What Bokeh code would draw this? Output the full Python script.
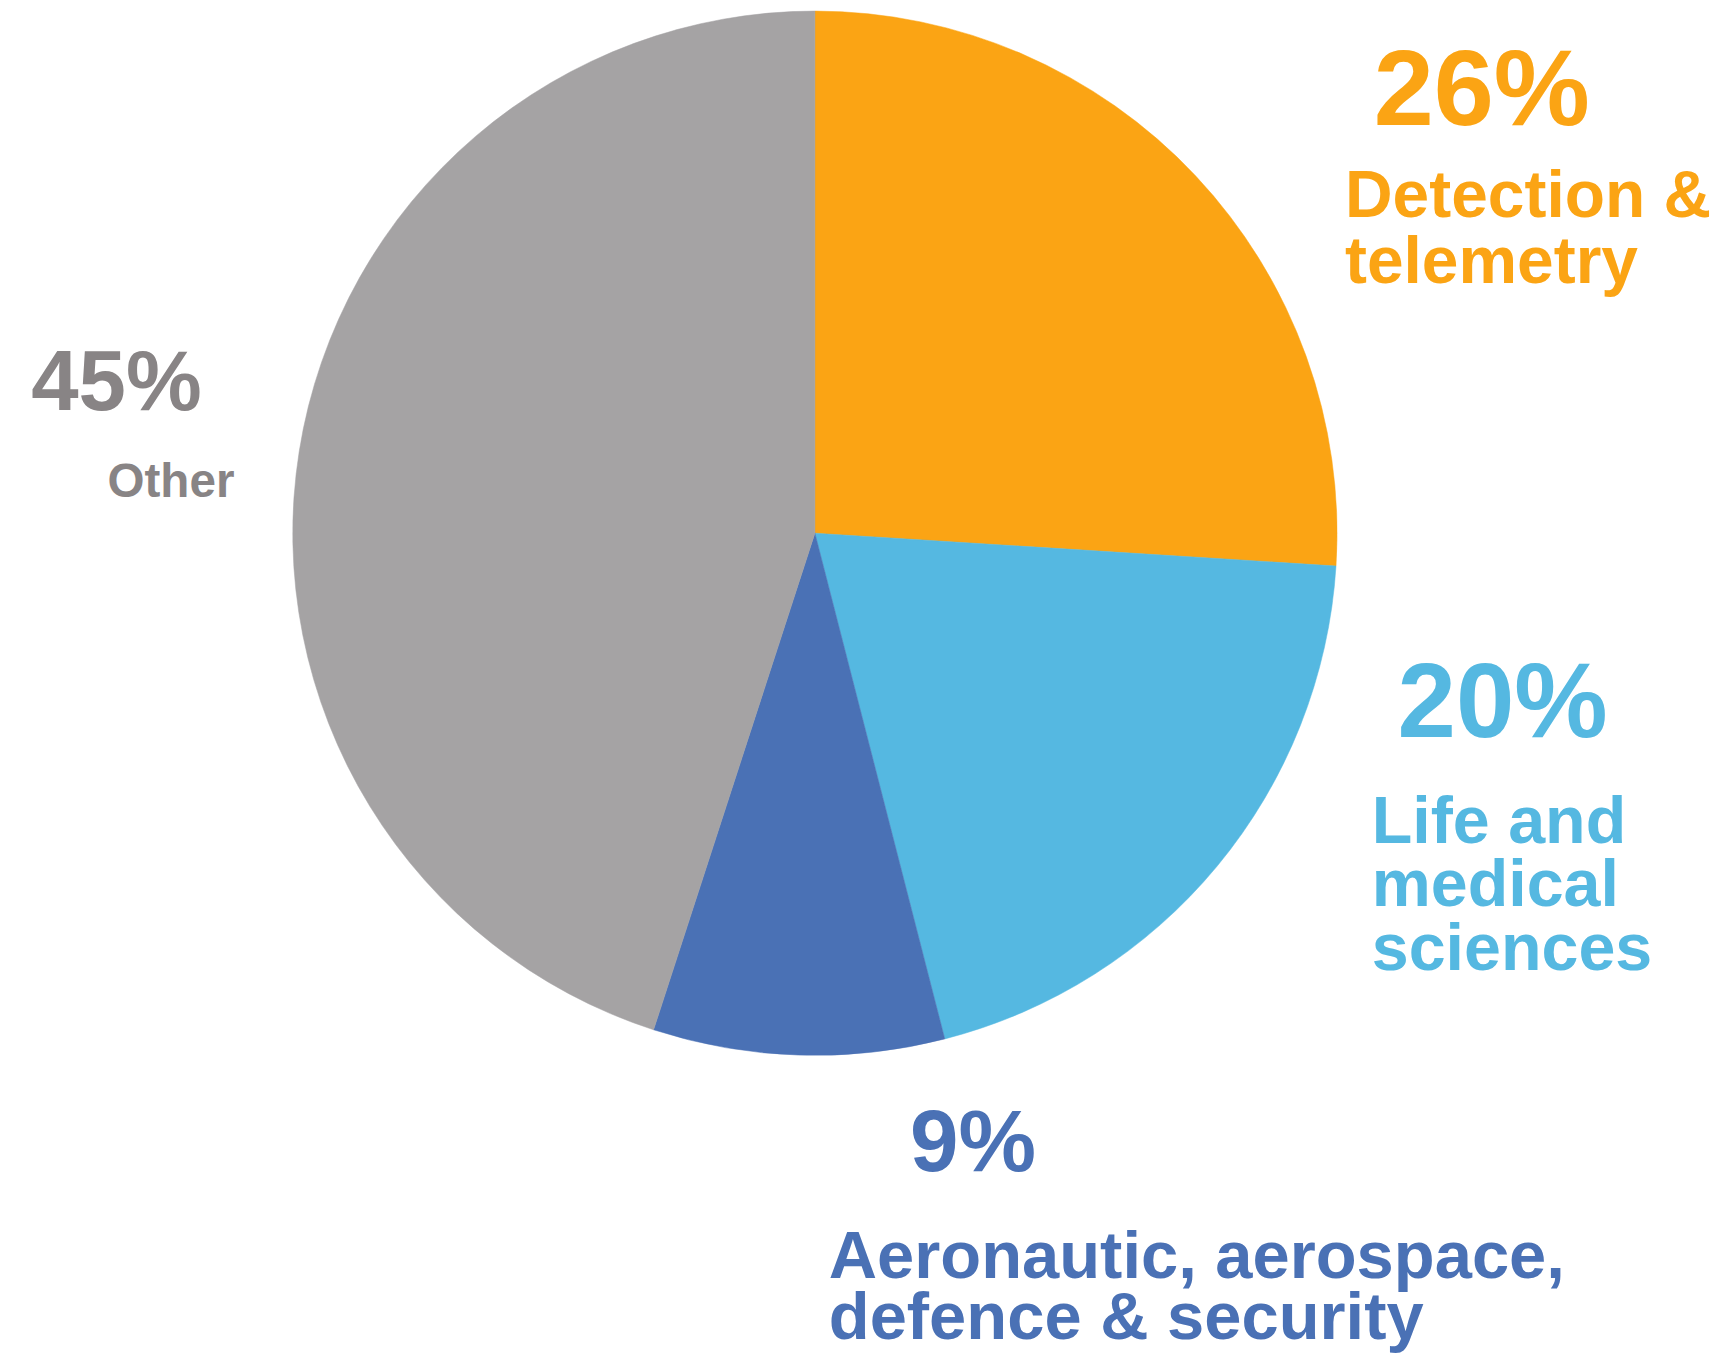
from bokeh.plotting import figure
from bokeh.models import Range1d, ColumnDataSource
from bokeh.core.properties import value
from bokeh.embed import file_html
from bokeh.resources import INLINE
import math

# ---------------- data ----------------
categories = ["Detection &\ntelemetry", "Life and\nmedical\nsciences",
              "Aeronautic, aerospace,\ndefence & security", "Other"]
shares = [26, 20, 9, 45]
pct_labels = ["26%", "20%", "9%", "45%"]

# ---------------- styles ----------------
slice_colors = ["#FBA414", "#55B8E1", "#4A71B5", "#A5A3A4"]
text_colors = ["#FBA414", "#55B8E1", "#4A71B5", "#888485"]
FONT = "Liberation Sans"

# ---------------- layout (in reference picture px) ----------------
REF_W, REF_H = 1733, 1371
W, H = 1717, 1355
SCALE = W / REF_W
CENTER = (822, 539)
RADIUS = 527
BASE_FIX = 0.37  # baseline correction, in em
# percent label: x, baseline y, font px
pct_pos = [(1386, 128, 109), (1410, 747, 106), (918, 1186, 88), (31, 416, 86)]
# category label: x, first baseline y, font px, line step
cat_pos = [(1357, 220, 66.5, 67), (1384, 854, 67, 64), (836, 1294, 67.5, 62), (108, 503, 48, 50)]


def sx(X):
    return X * W / REF_W


def sy(Y):
    return H - Y * H / REF_H


p = figure(width=W, height=H, x_range=Range1d(0, W), y_range=Range1d(0, H),
           output_backend="svg", toolbar_location=None, min_border=0,
           x_axis_location=None, y_axis_location=None)
p.grid.visible = False
p.outline_line_color = None
p.background_fill_color = "white"
p.border_fill_color = "white"

# wedges: start at 12 o'clock, go clockwise
total = float(sum(shares))
starts, ends = [], []
cum = 0.0
for s in shares:
    a_end = math.pi / 2 - 2 * math.pi * cum / total
    cum += s
    a_start = math.pi / 2 - 2 * math.pi * cum / total
    starts.append(a_start)
    ends.append(a_end)

src = ColumnDataSource(dict(
    x=[sx(CENTER[0])] * len(shares), y=[sy(CENTER[1])] * len(shares),
    start=starts, end=ends, color=slice_colors, cat=categories, share=shares))
p.wedge(x="x", y="y", radius=RADIUS * SCALE, start_angle="start", end_angle="end",
        direction="anticlock", fill_color="color", line_color="color",
        line_width=0.5, source=src)


def put(lines, x, y0, fs, step, col):
    ys = [sy(y0 + i * step - BASE_FIX * fs) for i in range(len(lines))]
    p.text(x=[sx(x)] * len(lines), y=ys, text=lines, text_color=col,
           text_font=value(FONT), text_font_style="bold",
           text_font_size=f"{fs * SCALE:.1f}px", text_align="left",
           text_baseline="alphabetic")


for lab, col, (x, y, fs) in zip(pct_labels, text_colors, pct_pos):
    put([lab], x, y, fs, 0, col)

for lab, col, (x, y, fs, step) in zip(categories, text_colors, cat_pos):
    put(lab.split("\n"), x, y, fs, step, col)

open("out.html", "w").write(file_html(p, INLINE))
